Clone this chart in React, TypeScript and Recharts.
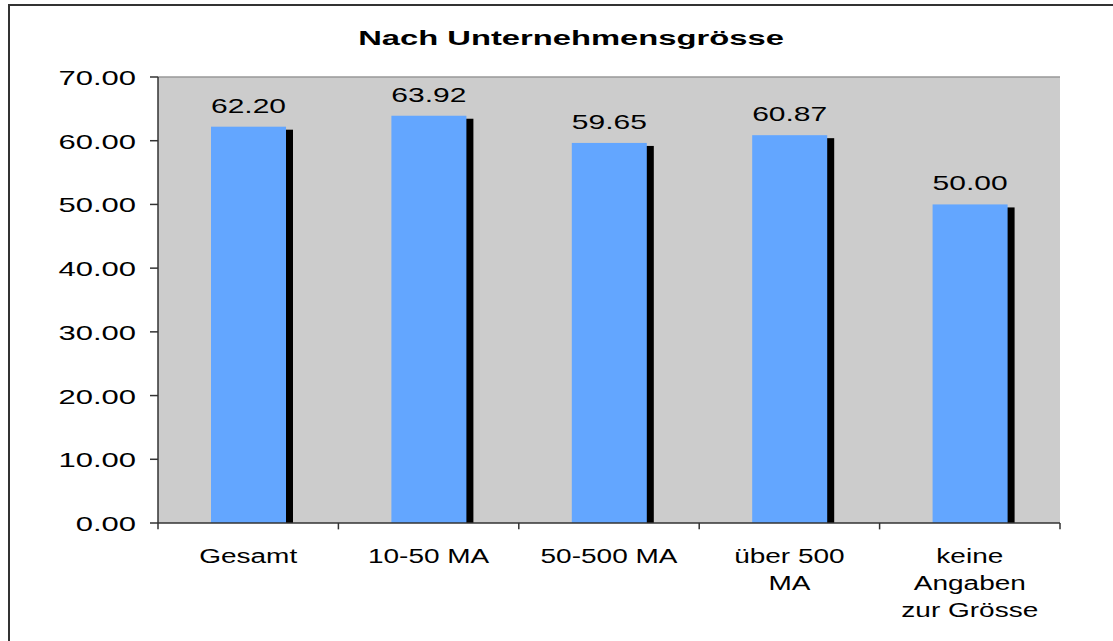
import React from 'react';
import { BarChart, Bar, XAxis, YAxis, CartesianGrid, ReferenceLine, LabelList } from 'recharts';

const title = 'Nach Unternehmensgrösse';
const categories = ['Gesamt', '10-50 MA', '50-500 MA', 'über 500\nMA', 'keine\nAngaben\nzur Grösse'];
const values = [62.2, 63.92, 59.65, 60.87, 50.0];
const yTicks = [0, 10, 20, 30, 40, 50, 60, 70];

const data = categories.map((c, i) => ({ name: c, value: values[i] }));

const FONT = '"Liberation Sans", Arial, sans-serif';

const ScaledText = ({ x, y, sx, anchor, size = 20, weight = 'normal', children }: any) => (
  <text
    transform={`translate(${x},${y}) scale(${sx},1)`}
    textAnchor={anchor}
    fontFamily={FONT}
    fontSize={size}
    fontWeight={weight}
    fill="#000"
  >
    {children}
  </text>
);

const ShadowBar = (props: any) => {
  const { x, y, width, height } = props;
  return (
    <g>
      <rect x={x + 7} y={y + 3} width={width} height={Math.max(0, height - 3)} fill="#000" />
      <rect x={x} y={y} width={width} height={height} fill="#63A6FF" />
    </g>
  );
};

const YTick = (props: any) => {
  const { x, y, payload } = props;
  return (
    <ScaledText x={x} y={y + 8} sx={1.55} anchor="end">
      {Number(payload.value).toFixed(2)}
    </ScaledText>
  );
};

const XTick = (props: any) => {
  const { x, y, payload } = props;
  const lines = String(payload.value).split('\n');
  return (
    <g>
      {lines.map((l, i) => (
        <ScaledText key={i} x={x} y={y + 40 + i * 27} sx={1.4} anchor="middle">
          {l}
        </ScaledText>
      ))}
    </g>
  );
};

export default function App() {
  return (
    <div style={{ position: 'absolute', left: 0, top: 0, width: 1113, height: 641, overflow: 'hidden', background: '#fff' }}>
      <div
        style={{
          position: 'absolute',
          left: 8,
          top: 4,
          width: 1300,
          height: 900,
          border: '2px solid #333',
          boxSizing: 'border-box',
        }}
      />
      <svg width={1113} height={641} style={{ position: 'absolute', left: 0, top: 0 }}>
        <ScaledText x={571} y={45} sx={1.68} anchor="middle" size={19.5} weight="bold">
          {title}
        </ScaledText>
      </svg>
      <div style={{ position: 'absolute', left: 0, top: 0 }}>
        <BarChart
          width={1113}
          height={641}
          data={data}
          margin={{ top: 77, right: 53, left: 98, bottom: 18 }}
          barSize={75}
        >
          <CartesianGrid horizontal={false} vertical={false} fill="#CCCCCC" />
          <XAxis
            dataKey="name"
            height={100}
            tickLine={false}
            tickSize={0}
            tickMargin={0}
            axisLine={{ stroke: '#333', strokeWidth: 1.5 }}
            tick={<XTick />}
            interval={0}
          />
          <YAxis
            yAxisId="left"
            width={60}
            domain={[0, 70]}
            ticks={yTicks}
            tickSize={8}
            tickMargin={14}
            tickLine={{ stroke: '#333', strokeWidth: 1.5 }}
            axisLine={{ stroke: '#333', strokeWidth: 1.5 }}
            tick={<YTick />}
            allowDataOverflow
          />
          <YAxis
            yAxisId="right"
            orientation="right"
            width={0}
            domain={[0, 70]}
            tick={false}
            tickLine={false}
            axisLine={{ stroke: '#888', strokeWidth: 2 }}
          />
          <ReferenceLine yAxisId="left" y={70} stroke="#999" strokeWidth={1.5} />
          {categories.map((c) => (
            <ReferenceLine
              key={'t' + c}
              yAxisId="left"
              segment={[{ x: c, y: 0 }, { x: c, y: -1 }]}
              position="start"
              stroke="#333"
              strokeWidth={1.5}
              ifOverflow="visible"
            />
          ))}
          <ReferenceLine
            yAxisId="left"
            segment={[{ x: categories[categories.length - 1], y: 0 }, { x: categories[categories.length - 1], y: -1 }]}
            position="end"
            stroke="#333"
            strokeWidth={1.5}
            ifOverflow="visible"
          />
          <Bar yAxisId="left" dataKey="value" shape={<ShadowBar />} isAnimationActive={false}>
            <LabelList
              dataKey="value"
              content={(p: any) => (
                <ScaledText x={p.x + p.width / 2} y={p.y - 14} sx={1.5} anchor="middle">
                  {Number(p.value).toFixed(2)}
                </ScaledText>
              )}
            />
          </Bar>
        </BarChart>
      </div>
    </div>
  );
}
